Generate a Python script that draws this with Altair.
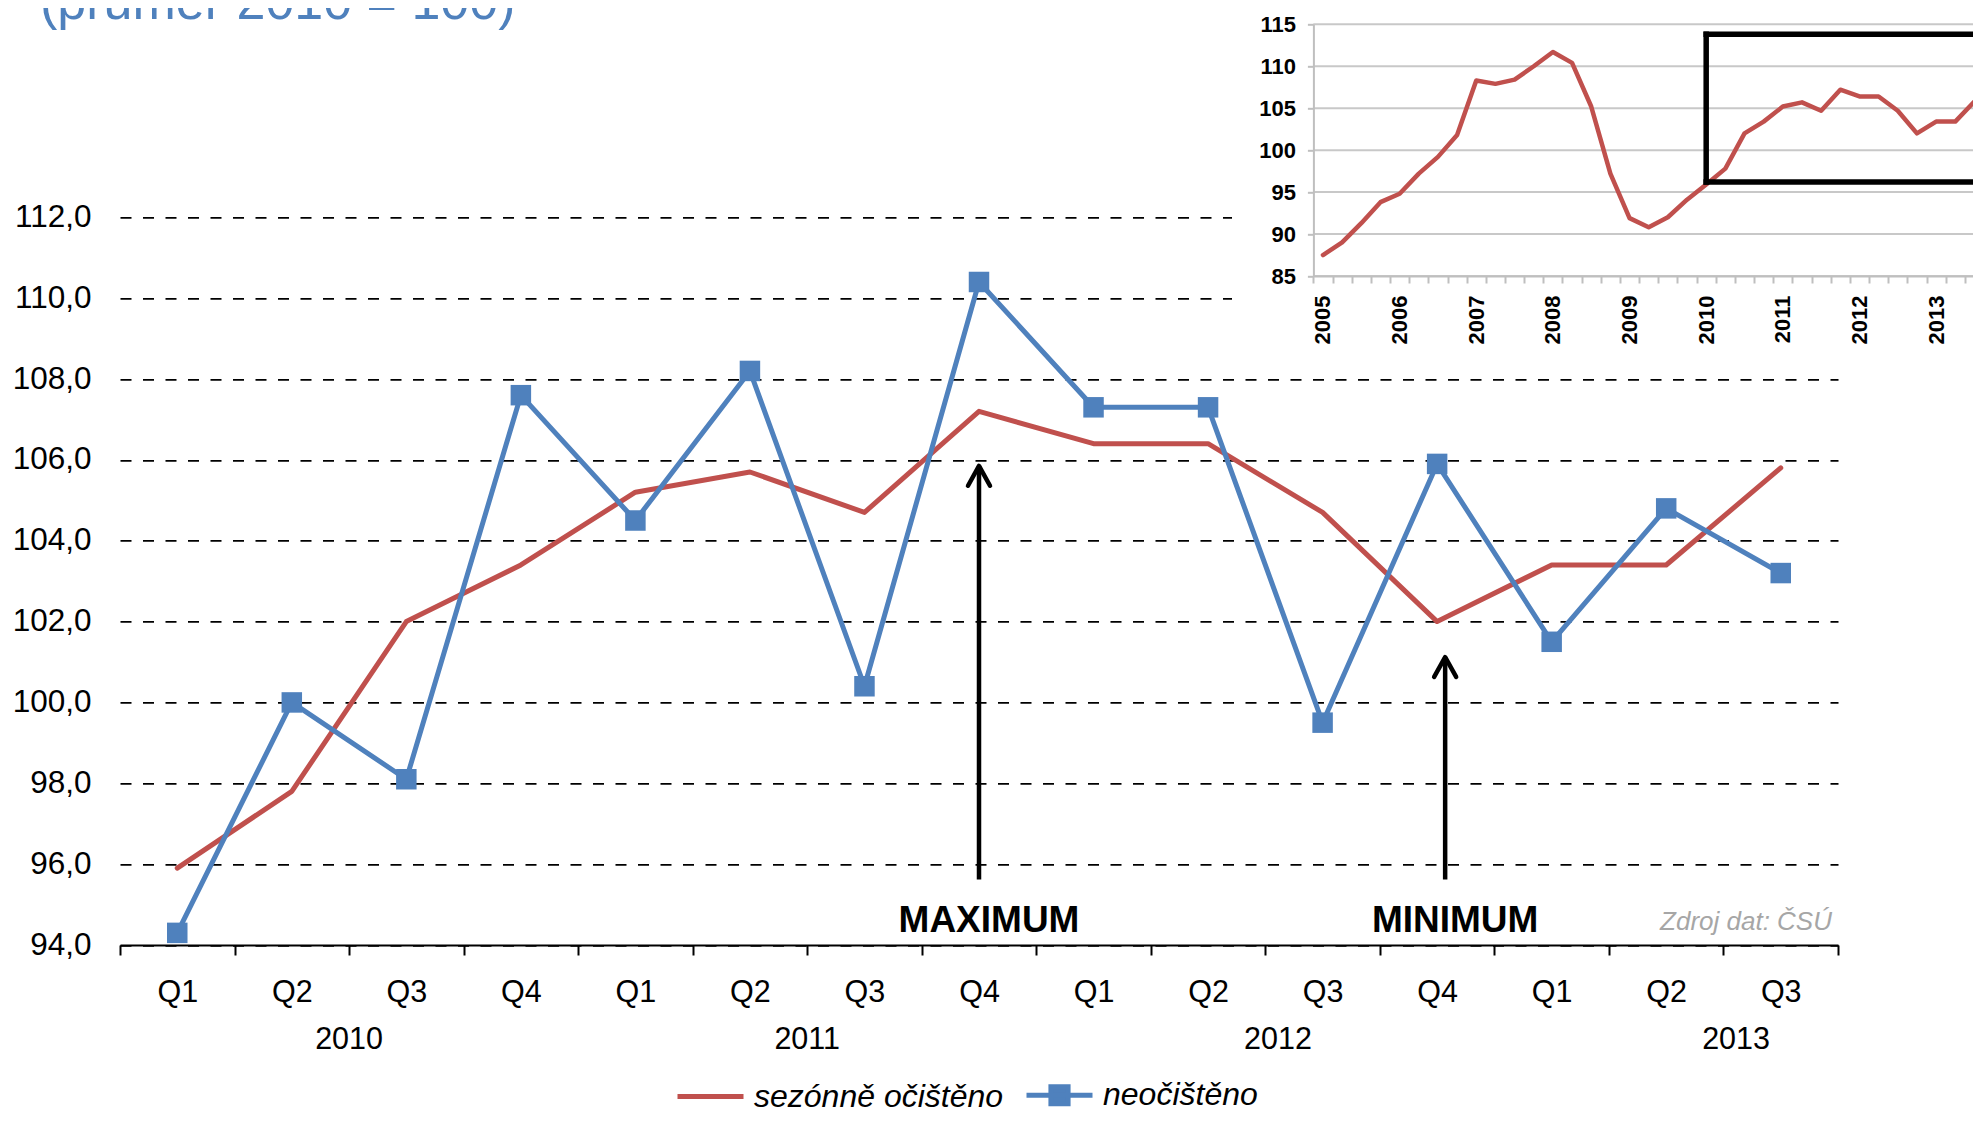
import altair as alt
import pandas as pd

# ---------------- data ----------------
quarters = ["Q1", "Q2", "Q3", "Q4", "Q1", "Q2", "Q3", "Q4",
            "Q1", "Q2", "Q3", "Q4", "Q1", "Q2", "Q3"]
quarter_years = [2010] * 4 + [2011] * 4 + [2012] * 4 + [2013] * 3
seasonally_adjusted = [95.9, 97.8, 102.0, 103.4, 105.2, 105.7, 104.7, 107.2,
                       106.4, 106.4, 104.7, 102.0, 103.4, 103.4, 105.8]
unadjusted = [94.3, 100.0, 98.1, 107.6, 104.5, 108.2, 100.4, 110.4,
              107.3, 107.3, 99.5, 105.9, 101.5, 104.8, 103.2]
series_names = ["sezónně očištěno", "neočištěno"]
series_colors = ["#C0504D", "#4F81BD"]
y_ticks = [94, 96, 98, 100, 102, 104, 106, 108, 110, 112]

year_labels_a = ["2010", "2011"]
year_anchor_a = ["2010 Q3", "2011 Q3"]
year_labels_b = ["2012", "2013"]
year_anchor_b = ["2012 Q3", "2013 Q3"]

annot_labels = ["MAXIMUM", "MINIMUM"]
annot_quarters = ["2011 Q4", "2012 Q4"]
arrow_tips = [105.85, 101.12]
arrow_base = 95.62
annot_baseline = 94.33
source_text = "Zdroj dat: ČSÚ"
source_baseline = 94.37
title_text = "(průměr 2010 = 100)"

inset_early = [87.5, 89.0, 91.3, 93.8, 94.8, 97.2, 99.2, 101.8, 108.3, 107.9,
               108.4, 110.0, 111.7, 110.4, 105.2, 97.2, 91.9, 90.8, 92.0, 94.1]
inset_values = inset_early + seasonally_adjusted
inset_year_list = list(range(2005, 2014))
inset_ticks = [85, 90, 95, 100, 105, 110, 115]
zoom_box_top = 113.8
zoom_box_bottom = 96.2

# ---------------- tables ----------------
cats = [f"{y} {q}" for y, q in zip(quarter_years, quarters)]
df_lines = pd.DataFrame({
    "cat": cats * 2,
    "series": [series_names[0]] * len(cats) + [series_names[1]] * len(cats),
    "value": seasonally_adjusted + unadjusted,
})
df_source = pd.DataFrame({"cat": [cats[-1]], "v": [source_baseline], "t": [source_text]})
df_years_a = pd.DataFrame({"cat": year_anchor_a, "year": year_labels_a})
df_years_b = pd.DataFrame({"cat": year_anchor_b, "year": year_labels_b})
df_title = pd.DataFrame({"t": [title_text]})

inset_cats = [f"{y} Q{q}" for y in inset_year_list for q in range(1, 5)][:len(inset_values)]
df_inset = pd.DataFrame({"icat": inset_cats, "v": inset_values})
df_igrid = pd.DataFrame({"v": inset_ticks, "a": [inset_cats[0]] * len(inset_ticks),
                         "b": [inset_cats[-1]] * len(inset_ticks)})
df_box = pd.DataFrame({"a": ["2010 Q1"], "b": [inset_cats[-1]],
                       "top": [zoom_box_top], "bottom": [zoom_box_bottom]})

# ---------------- layout ----------------
FONT = "Liberation Sans"
W, H = 1718, 727.7
PAD = {"left": 112, "top": 209.3, "right": 135, "bottom": 169}
INSET_X_RANGE = [1193.4, 1864.0]
INSET_Y_RANGE = [58.7, -193.0]
ARROW_BAND_POS = [0.5, 0.57]   # where each arrow sits inside its quarter band

x_main = alt.Scale(domain=cats, paddingInner=0, paddingOuter=0)
y_main = alt.Scale(domain=[94, 112], nice=False, zero=False)

x_axis = alt.Axis(labelExpr="datum.value ? substring(datum.value, 5) : ''", labelAngle=0,
                  labelFontSize=30.5, labelColor="black", labelPadding=22, tickBand="extent",
                  tickSize=10, tickWidth=2, tickColor="black", domainColor="black",
                  domainWidth=2, grid=False, title=None, labelOverlap=False)
y_axis = alt.Axis(values=y_ticks, labelExpr="replace(format(datum.value, '.1f'), '.', ',')",
                  labelFontSize=31.5, labelColor="black", labelPadding=29, ticks=False,
                  domain=False, grid=True, gridColor="black", gridWidth=1.8,
                  gridDash=[11, 11.5], title=None)


def mx(field, **kw):
    return alt.X(field, scale=x_main, axis=x_axis, **kw)


def my(field, **kw):
    return alt.Y(field, scale=y_main, axis=y_axis, **kw)


sym_test = f"datum.value == '{series_names[1]}'"
legend = alt.Legend(
    orient="none", legendX=555, legendY=842, direction="horizontal", title=None,
    symbolSize=4356, symbolStrokeWidth=5, labelFontSize=32, labelFontStyle="italic",
    labelColor="black", labelLimit=600, labelOffset=8, columnPadding=12, padding=0,
    symbolType={"expr": f"{sym_test} ? 'M-1,0H1M-0.26,-0.26H0.26V0.26H-0.26Z' : 'stroke'"},
    symbolFillColor={"expr": f"{sym_test} ? '{series_colors[1]}' : 'transparent'"},
)

lines = alt.Chart(df_lines).mark_line(strokeWidth=5, strokeJoin="round", strokeCap="round").encode(
    x=mx("cat:N"),
    y=my("value:Q"),
    color=alt.Color("series:N", scale=alt.Scale(domain=series_names, range=series_colors),
                    legend=legend),
)
squares = alt.Chart(df_lines).transform_filter(
    alt.datum.series == series_names[1]
).mark_point(shape="square", filled=True, size=420, opacity=1, color=series_colors[1]).encode(
    x=mx("cat:N"), y=my("value:Q"),
)

annotation_layers = []
for lab, q, tip, bpos in zip(annot_labels, annot_quarters, arrow_tips, ARROW_BAND_POS):
    d = pd.DataFrame({"cat": [q], "tip": [tip], "base": [arrow_base],
                      "label": [lab], "laby": [annot_baseline]})
    annotation_layers += [
        alt.Chart(d).mark_rule(strokeWidth=4.5, color="black").encode(
            x=mx("cat:N", bandPosition=bpos), y=my("base:Q"), y2="tip:Q"),
        alt.Chart(d).mark_point(shape="M-1,1.8L0,0L1,1.8", filled=False, size=484,
                                strokeWidth=4.5, color="black", opacity=1,
                                strokeJoin="round", strokeCap="round").encode(
            x=mx("cat:N", bandPosition=bpos), y=my("tip:Q")),
        alt.Chart(d).mark_text(fontSize=37, fontWeight="bold", baseline="alphabetic",
                               align="center", dx=10, color="black").encode(
            x=mx("cat:N", bandPosition=bpos), y=my("laby:Q"), text="label:N"),
    ]

source = alt.Chart(df_source).mark_text(fontSize=26, fontStyle="italic", color="#A6A6A6",
                                        align="right", baseline="alphabetic", dx=-6).encode(
    x=mx("cat:N", bandPosition=1), y=my("v:Q"), text="t:N",
)
years_a = alt.Chart(df_years_a).mark_text(fontSize=30.5, baseline="middle", color="black").encode(
    x=mx("cat:N", bandPosition=0), y=alt.value(822.5), text="year:N",
)
years_b = alt.Chart(df_years_b).mark_text(fontSize=30.5, baseline="middle", color="black").encode(
    x=mx("cat:N", bandPosition=0.11), y=alt.value(822.5), text="year:N",
)
title = alt.Chart(df_title).mark_text(fontSize=52, color="#4F81BD", align="left",
                                      baseline="alphabetic").encode(
    x=alt.value(-80), y=alt.value(-198.3), text="t:N",
)

main = alt.layer(lines, squares, *annotation_layers, source, years_a, years_b, title)

# ---------------- inset ----------------
x_in = alt.Scale(domain=inset_cats, range=INSET_X_RANGE, paddingInner=0, paddingOuter=0)
y_in = alt.Scale(domain=[85, 115], range=INSET_Y_RANGE, nice=False, zero=False)
GRAY = "#BFBFBF"
ix_axis = alt.Axis(orient="bottom", offset=INSET_Y_RANGE[0] - H,
                   labelExpr="datum.value && substring(datum.value, 5) == 'Q1' ? substring(datum.value, 0, 4) : ''",
                   labelAngle=270, labelFontSize=22, labelFontWeight="bold", labelColor="black",
                   labelPadding=12, tickBand="extent", tickSize=7, tickWidth=2, tickColor=GRAY,
                   domainColor=GRAY, domainWidth=2, grid=False, title=None, zindex=1,
                   labelOverlap=False)
iy_axis = alt.Axis(orient="left", offset=-INSET_X_RANGE[0], values=inset_ticks,
                   labelFontSize=22, labelFontWeight="bold", labelColor="black",
                   labelPadding=12, tickSize=6, tickWidth=2, tickColor=GRAY,
                   domainColor=GRAY, domainWidth=2, grid=False, title=None, zindex=1)


def ix(field, **kw):
    return alt.X(field, scale=x_in, axis=ix_axis, **kw)


def iy(field, **kw):
    return alt.Y(field, scale=y_in, axis=iy_axis, **kw)


bg = alt.Chart(pd.DataFrame({"k": [0]})).mark_rect(color="white", opacity=1).encode(
    x=alt.value(1112), x2=alt.value(1900), y=alt.value(-230), y2=alt.value(138),
)
igrid = alt.Chart(df_igrid).mark_rule(color="#C8C8C8", strokeWidth=2).encode(
    x=ix("a:N", bandPosition=0), x2=alt.X2("b:N", bandPosition=1), y=iy("v:Q"),
)
iline = alt.Chart(df_inset).mark_line(color=series_colors[0], strokeWidth=4.5,
                                      strokeJoin="round", strokeCap="round").encode(
    x=ix("icat:N"), y=iy("v:Q"),
)
box_top = alt.Chart(df_box).mark_rule(color="black", strokeWidth=5.5, strokeCap="square").encode(
    x=ix("a:N"), x2=alt.X2("b:N", bandPosition=1), y=iy("top:Q"),
)
box_bottom = alt.Chart(df_box).mark_rule(color="black", strokeWidth=5.5, strokeCap="square").encode(
    x=ix("a:N"), x2=alt.X2("b:N", bandPosition=1), y=iy("bottom:Q"),
)
box_left = alt.Chart(df_box).mark_rule(color="black", strokeWidth=5.5, strokeCap="square").encode(
    x=ix("a:N"), y=iy("bottom:Q"), y2="top:Q",
)

inset = alt.layer(bg, igrid, iline, box_top, box_bottom, box_left)

chart = alt.layer(main, inset).resolve_scale(
    x="independent", y="independent"
).properties(
    width=W, height=H,
    autosize=alt.AutoSizeParams(type="none"),
    padding=PAD,
).configure(font=FONT).configure_view(stroke=None)

chart.save("out.html", embed_options={"renderer": "svg", "actions": False})
